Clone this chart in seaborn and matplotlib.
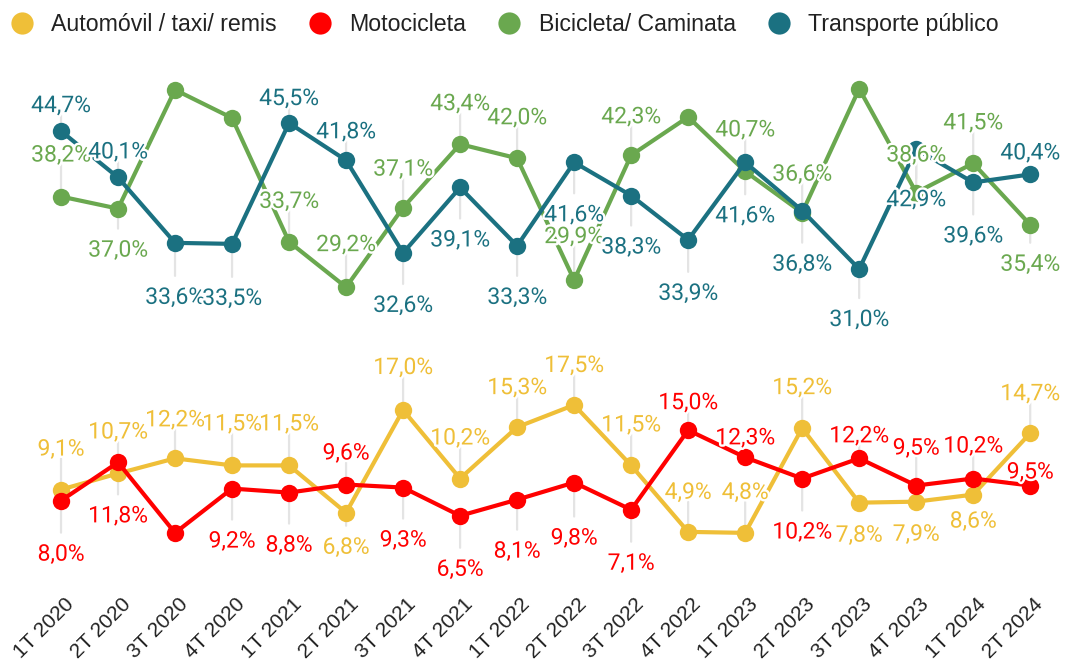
import numpy as np
import pandas as pd
import matplotlib
matplotlib.use("Agg")
import matplotlib.pyplot as plt
import matplotlib.patheffects as pe
import matplotlib.transforms as mtransforms
from matplotlib.lines import Line2D
import seaborn as sns

# ---------------- data ----------------
periods = ["1T 2020", "2T 2020", "3T 2020", "4T 2020",
           "1T 2021", "2T 2021", "3T 2021", "4T 2021",
           "1T 2022", "2T 2022", "3T 2022", "4T 2022",
           "1T 2023", "2T 2023", "3T 2023", "4T 2023",
           "1T 2024", "2T 2024"]

series_names = ["Automóvil / taxi/ remis", "Motocicleta",
                "Bicicleta/ Caminata", "Transporte público"]

auto = [9.1, 10.7, 12.2, 11.5, 11.5, 6.8, 17.0, 10.2, 15.3, 17.5,
        11.5, 4.9, 4.8, 15.2, 7.8, 7.9, 8.6, 14.7]
moto = [8.0, 11.8, 4.8, 9.2, 8.8, 9.6, 9.3, 6.5, 8.1, 9.8,
        7.1, 15.0, 12.3, 10.2, 12.2, 9.5, 10.2, 9.5]
bici = [38.2, 37.0, 48.8, 46.0, 33.7, 29.2, 37.1, 43.4, 42.0, 29.9,
        42.3, 46.1, 40.7, 36.6, 48.9, 38.6, 41.5, 35.4]
trans = [44.7, 40.1, 33.6, 33.5, 45.5, 41.8, 32.6, 39.1, 33.3, 41.6,
         38.3, 33.9, 41.6, 36.8, 31.0, 42.9, 39.6, 40.4]

# which points carry a visible value label (the rest were hidden in the source)
show_auto = [True] * 18
show_moto = [True, True, False] + [True] * 15
show_bici = [True, True, False, False, True, True, True, True, True, True,
             True, False, True, True, False, True, True, True]
show_trans = [True] * 18

colors = ["#EFBF38", "#FF0000", "#6AA84F", "#1B7181"]

# ---------------- label layout (pixels, + = above the point) ----------------
off_auto = [42, 43, 40, 43, 43, -33, 44, 42, 41, 41, 42, 41, 42, 42, -31, -31, -25, 41]
off_moto = [-52, -52, 0, -51, -51, 33, -51, -52, -50, -54, -52, 29, 21, -52, 24, 39, 34, 15]
off_bici = [43, -40, 0, 0, 42, 44, 40, 42, 42, 45, 40, 0, 43, 40, 0, 39, 42, -38]
off_trans = [27, 27, -53, -53, 26, 30, -51, -51, -50, -51, -50, -52, -52, -52, -49, -49, -52, 23]

# ---------------- build table ----------------
values = [auto, moto, bici, trans]
shows = [show_auto, show_moto, show_bici, show_trans]
offs = [off_auto, off_moto, off_bici, off_trans]

rows = []
for name, vals in zip(series_names, values):
    for i, v in enumerate(vals):
        rows.append({"idx": i, "periodo": periods[i], "serie": name, "valor": v})
df = pd.DataFrame(rows)

sns.set_theme(style="white")
plt.rcParams["font.family"] = ["Liberation Sans", "DejaVu Sans"]

fig = plt.figure(figsize=(10.65, 6.68), dpi=100)
ax = fig.add_axes([0.0, 0.1168, 1.0, 0.7934])

sns.lineplot(data=df, x="idx", y="valor", hue="serie", hue_order=series_names,
             palette=colors, marker="o", markersize=12.5, markeredgewidth=0,
             linewidth=3, legend=False, ax=ax, zorder=3)

ax.set_xlim(-1.07, 17.61)
ax.set_ylim(-0.87, 51.76)

# leaders and labels
for vals, show, off, col in zip(values, shows, offs, colors):
    for i, v in enumerate(vals):
        if not show[i]:
            continue
        o = off[i]
        end = o - 11 if o > 0 else o + 20
        if abs(end) > 12:
            ax.annotate("", xy=(i, v), xytext=(0, end), textcoords="offset pixels",
                        arrowprops=dict(arrowstyle="-", color="#E4E4E4", lw=1.6,
                                        shrinkA=0, shrinkB=0),
                        zorder=1)
        txt = f"{v:.1f}".replace(".", ",") + "%"
        ax.annotate(txt, xy=(i, v), xytext=(0, o - 8), textcoords="offset pixels",
                    ha="center", va="baseline", color=col, fontsize=16.5,
                    family=["Roboto", "DejaVu Sans"], zorder=10,
                    path_effects=[pe.withStroke(linewidth=3.5, foreground="white")])

# axes styling
for s in ax.spines.values():
    s.set_visible(False)
ax.set_yticks([])
ax.set_xticks(range(len(periods)))
ax.set_xticklabels(periods, rotation=45, ha="right", va="center",
                   rotation_mode="anchor", fontsize=15, color="#222222")
ax.tick_params(axis="x", length=0, pad=8)
shift = mtransforms.ScaledTranslation(10 / 100, 0, fig.dpi_scale_trans)
for lab in ax.get_xticklabels():
    lab.set_transform(lab.get_transform() + shift)
ax.set_xlabel("")
ax.set_ylabel("")
ax.grid(False)

# legend
handles = [Line2D([0], [0], marker="o", linestyle="none", markersize=16,
                  markerfacecolor=c, markeredgewidth=0) for c in colors]
fig.legend(handles, series_names, loc="upper left",
           bbox_to_anchor=(8 / 1065, 1 - 13 / 668),
           ncol=4, frameon=False, fontsize=16.7, handlelength=1.2,
           handletextpad=0.67, columnspacing=1.25, borderaxespad=0.0,
           borderpad=0.0, labelcolor="#222222")

fig.savefig("out.png", dpi=100, facecolor="white")
